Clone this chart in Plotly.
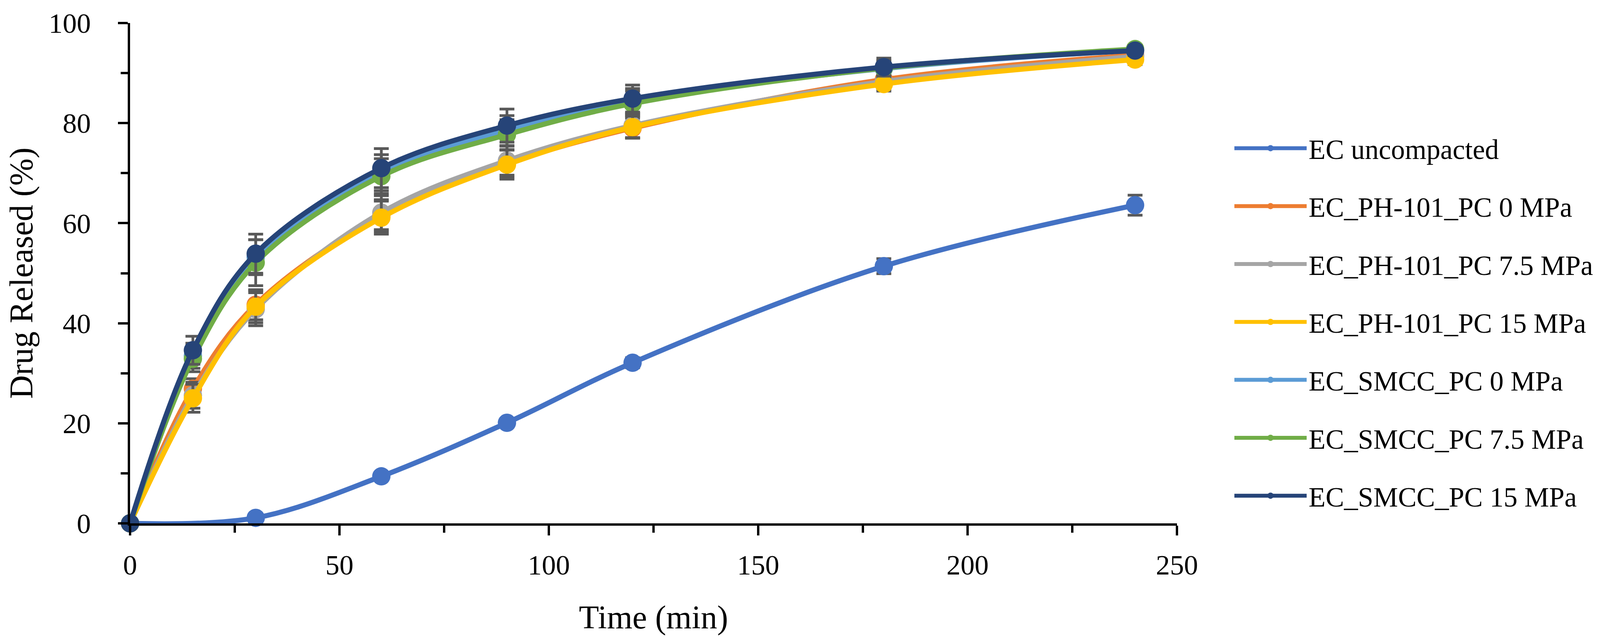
import plotly.graph_objects as go

# sampling times (min)
time_min = [0, 15, 30, 60, 90, 120, 180, 240]

series_names = [
    "EC uncompacted",
    "EC_PH-101_PC 0 MPa",
    "EC_PH-101_PC 7.5 MPa",
    "EC_PH-101_PC 15 MPa",
    "EC_SMCC_PC 0 MPa",
    "EC_SMCC_PC 7.5 MPa",
    "EC_SMCC_PC 15 MPa",
]

# mean drug released (%), uncompacted EC has no 15 min sample
ec_uncompacted = [0, None, 1.1, 9.4, 20.1, 32.1, 51.4, 63.6]
ph101_0 = [0, 26.9, 43.7, 61.5, 71.9, 79.0, 88.7, 93.6]
ph101_75 = [0, 25.6, 42.8, 62.1, 72.5, 79.5, 88.3, 93.3]
ph101_15 = [0, 25.0, 43.3, 61.1, 71.7, 79.2, 87.8, 92.7]
smcc_0 = [0, 33.5, 53.2, 70.1, 78.5, 84.4, 90.9, 94.6]
smcc_75 = [0, 32.9, 52.1, 69.4, 77.7, 83.9, 91.0, 94.8]
smcc_15 = [0, 34.6, 53.9, 71.0, 79.5, 84.9, 91.2, 94.5]

# standard deviations
ec_uncompacted_sd = [0, 0, 0.5, 0.6, 0.8, 1.0, 1.5, 2.0]
ph101_0_sd = [0, 2.0, 3.0, 3.2, 2.7, 2.0, 1.3, 0.8]
ph101_75_sd = [0, 2.6, 3.3, 3.4, 2.9, 2.4, 1.5, 1.0]
ph101_15_sd = [0, 2.8, 3.2, 3.3, 2.9, 2.2, 1.4, 1.0]
smcc_0_sd = [0, 2.5, 3.5, 3.6, 3.0, 2.5, 1.5, 0.9]
smcc_75_sd = [0, 2.6, 4.6, 3.5, 3.0, 2.5, 1.5, 0.8]
smcc_15_sd = [0, 2.8, 3.9, 3.9, 3.3, 2.7, 1.8, 1.0]

means = [ec_uncompacted, ph101_0, ph101_75, ph101_15, smcc_0, smcc_75, smcc_15]
sds = [ec_uncompacted_sd, ph101_0_sd, ph101_75_sd, ph101_15_sd, smcc_0_sd, smcc_75_sd, smcc_15_sd]
colors = ["#4472C4", "#ED7D31", "#A5A5A5", "#FFC000", "#5B9BD5", "#70AD47", "#264478"]

FONT = "Liberation Serif"

fig = go.Figure()
for i, (name, y, sd, col) in enumerate(zip(series_names, means, sds, colors)):
    fig.add_trace(go.Scatter(
        x=time_min, y=y, name=name, legendgroup=f"g{i}",
        mode="lines+markers", connectgaps=True,
        line=dict(color=col, width=13, shape="spline"),
        marker=dict(color=col, size=47),
        error_y=dict(type="data", array=sd, visible=True,
                     color="#595959", thickness=7, width=19),
        cliponaxis=False,
    ))

fig.update_layout(
    width=4188, height=1631,
    margin=dict(l=325, r=1183, t=51, b=299),
    plot_bgcolor="white", paper_bgcolor="white",
    font=dict(family=FONT, size=72, color="black"),
    showlegend=True,
    legend=dict(x=1.053, xanchor="left", y=0.791, yanchor="top",
                font=dict(family=FONT, size=71, color="black"),
                tracegroupgap=53, itemwidth=185, bgcolor="rgba(0,0,0,0)"),
)

fig.update_xaxes(
    range=[0, 250], dtick=50, tick0=0,
    showline=True, linecolor="black", linewidth=6,
    ticks="outside", ticklen=25, tickwidth=6, tickcolor="black",
    ticklabelstandoff=14,
    minor=dict(dtick=25, ticks="outside", ticklen=18, tickwidth=6, tickcolor="black"),
    showgrid=False, zeroline=False,
    title=dict(text="Time (min)", font=dict(family=FONT, size=84), standoff=66),
)
fig.update_yaxes(
    range=[0, 100], dtick=20, tick0=0,
    showline=True, linecolor="black", linewidth=6,
    ticks="outside", ticklen=25, tickwidth=6, tickcolor="black",
    ticklabelstandoff=55,
    minor=dict(dtick=10, ticks="outside", ticklen=18, tickwidth=6, tickcolor="black"),
    showgrid=False, zeroline=False,
    title=dict(text="Drug Released (%)", font=dict(family=FONT, size=84), standoff=44),
)

fig.write_html("out.html")
